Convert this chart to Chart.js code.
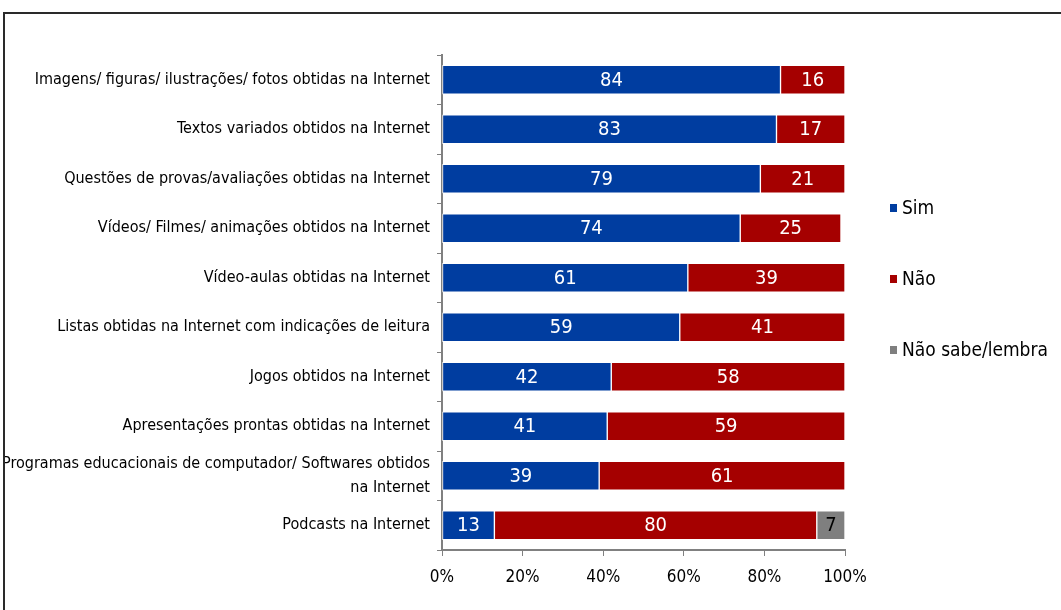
<!DOCTYPE html>
<html>
<head>
<meta charset="utf-8">
<script src="https://cdn.jsdelivr.net/npm/chart.js@4.4.1/dist/chart.umd.min.js"></script>
<style>
  body { margin: 0; background: #fff; }
  #box { position: relative; width: 1061px; height: 610px; overflow: hidden; }
  #moldura {
    position: absolute; left: 3px; top: 12px; width: 1100px; height: 700px;
    border-top: 2px solid #2a2a2a; border-left: 2px solid #2a2a2a;
    pointer-events: none;
  }
</style>
</head>
<body>
<div id="box">
  <canvas id="myChart" width="1061" height="610"></canvas>
  <div id="moldura"></div>
</div>
<script>
// Dados
let categorias = [
  "Imagens/ figuras/ ilustrações/ fotos obtidas na Internet",
  "Textos variados obtidos na Internet",
  "Questões de provas/avaliações obtidas na Internet",
  "Vídeos/ Filmes/ animações obtidos na Internet",
  "Vídeo-aulas obtidas na Internet",
  "Listas obtidas na Internet com indicações de leitura",
  "Jogos obtidos na Internet",
  "Apresentações prontas obtidas na Internet",
  ["Programas educacionais de computador/ Softwares obtidos", "na Internet"],
  "Podcasts na Internet",
];
let sim = [84, 83, 79, 74, 61, 59, 42, 41, 39, 13];
let nao = [16, 17, 21, 25, 39, 41, 58, 59, 61, 80];
let naoSabe = [0, 0, 0, 0, 0, 0, 0, 0, 0, 7];
let ticksX = [0, 20, 40, 60, 80, 100];

const fonte = "'Liberation Sans Narrow', 'Arial Narrow', 'DejaVu Sans Condensed', sans-serif";

// rotulos dentro das barras
const rotulos = {
  id: 'rotulos',
  afterDatasetsDraw(chart) {
    const ctx = chart.ctx;
    ctx.save();
    ctx.font = '20px ' + fonte;
    ctx.textAlign = 'center';
    ctx.textBaseline = 'middle';
    chart.data.datasets.forEach((ds, i) => {
      chart.getDatasetMeta(i).data.forEach((bar, j) => {
        let v = ds.data[j];
        if (!v) return;
        ctx.fillStyle = ds.corRotulo;
        ctx.fillText(v, (bar.x + bar.base) / 2, bar.y + 1);
      });
    });
    ctx.restore();
  }
};

// legenda a direita
const legenda = {
  id: 'legenda',
  afterDraw(chart) {
    const ctx = chart.ctx;
    const x = chart.chartArea.right + 45;
    ctx.save();
    ctx.font = '19px ' + fonte;
    ctx.textBaseline = 'middle';
    chart.data.datasets.forEach((ds, i) => {
      let y = 208 + i * 71;
      ctx.fillStyle = ds.backgroundColor;
      ctx.fillRect(x, y - 4, 7, 8);
      ctx.fillStyle = '#000';
      ctx.fillText(ds.label, x + 12, y + 1);
    });
    ctx.restore();
  }
};

const ctx = document.getElementById('myChart').getContext('2d');
const myChart = new Chart(ctx, {
  type: 'bar',
  data: {
    labels: categorias,
    datasets: [
      { label: 'Sim', data: sim, backgroundColor: '#003DA0', corRotulo: '#fff' },
      { label: 'Não', data: nao, backgroundColor: '#A50000', corRotulo: '#fff' },
      { label: 'Não sabe/lembra', data: naoSabe, backgroundColor: '#7F7F7F', corRotulo: '#000' },
    ]
  },
  options: {
    indexAxis: 'y',
    responsive: false,
    animation: false,
    devicePixelRatio: 1,
    datasets: {
      bar: {
        barThickness: 29,
        borderColor: 'rgba(255,255,255,0.85)',
        borderWidth: 1,
        borderSkipped: false,
      }
    },
    layout: { padding: { top: 55, right: 216, left: 0, bottom: 0 } },
    plugins: {
      legend: { display: false },
      tooltip: { enabled: false },
    },
    scales: {
      x: {
        stacked: true,
        min: 0,
        max: 100,
        afterBuildTicks: axis => { axis.ticks = ticksX.map(v => ({ value: v })); },
        afterFit: axis => { axis.height = 60; },
        border: { color: '#808080', width: 2 },
        grid: { drawOnChartArea: false, tickLength: 6, color: '#808080', tickWidth: 1 },
        ticks: {
          color: '#000',
          padding: 11,
          font: { family: fonte, size: 17 },
          callback: v => v + '%',
        }
      },
      y: {
        stacked: true,
        afterFit: axis => { axis.width = 442; },
        border: { color: '#808080', width: 2 },
        grid: { offset: true, drawOnChartArea: false, tickLength: 5, color: '#808080' },
        ticks: {
          color: '#000',
          padding: 7,
          font: { family: fonte, size: 16, lineHeight: 1.45 },
        }
      }
    }
  },
  plugins: [rotulos, legenda]
});
</script>
</body>
</html>
